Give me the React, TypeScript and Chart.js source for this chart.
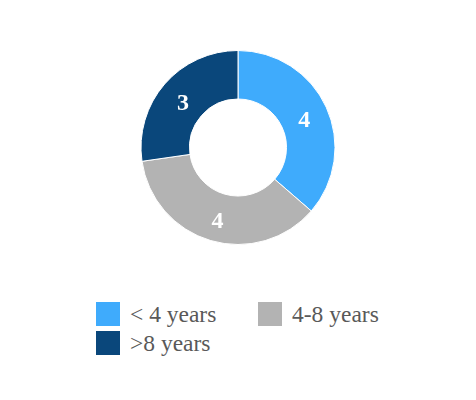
import React, { useEffect, useRef } from "react";
import { Chart, registerables } from "chart.js";

Chart.register(...registerables);

const categories = ["< 4 years", "4-8 years", ">8 years"];
const counts = [4, 4, 3];
const colors = ["#3FABFC", "#B3B3B3", "#0A477B"];

const FONT = '"Liberation Serif", "Times New Roman", serif';

// draws the value of each slice on the arc
const sliceLabels = {
    id: "sliceLabels",
    afterDatasetsDraw(chart: any) {
        const ctx = chart.ctx;
        const meta = chart.getDatasetMeta(0);
        ctx.save();
        ctx.fillStyle = "#ffffff";
        ctx.font = `bold 24px ${FONT}`;
        ctx.textAlign = "center";
        ctx.textBaseline = "middle";
        meta.data.forEach((arc: any, i: number) => {
            const pos = arc.tooltipPosition();
            ctx.fillText(String(chart.data.datasets[0].data[i]), pos.x, pos.y + 4);
        });
        ctx.restore();
    },
};

const App: React.FC = () => {
    const chartRef = useRef<HTMLCanvasElement | null>(null);
    const chartInstanceRef = useRef<Chart<"doughnut"> | null>(null);

    useEffect(() => {
        if (!chartRef.current) return;
        if (chartInstanceRef.current) {
            chartInstanceRef.current.destroy();
        }
        const ctx = chartRef.current.getContext("2d");
        if (!ctx) return;

        chartInstanceRef.current = new Chart(ctx, {
            type: "doughnut",
            data: {
                labels: categories,
                datasets: [
                    {
                        data: counts,
                        backgroundColor: colors,
                        borderColor: "#ffffff",
                        borderWidth: 1,
                    },
                ],
            },
            options: {
                animation: false,
                responsive: true,
                maintainAspectRatio: false,
                cutout: "50%",
                plugins: {
                    legend: { display: false },
                    tooltip: { enabled: false },
                },
            },
            plugins: [sliceLabels],
        });

        return () => {
            if (chartInstanceRef.current) {
                chartInstanceRef.current.destroy();
                chartInstanceRef.current = null;
            }
        };
    }, []);

    return (
        <div style={{ width: 460, height: 384, position: "relative", fontFamily: FONT }}>
            <div style={{ position: "absolute", left: 0, top: 42, width: 460, height: 195 }}>
                <canvas ref={chartRef} />
            </div>
            <div
                style={{
                    position: "absolute",
                    left: 88,
                    top: 294,
                    display: "grid",
                    gridTemplateColumns: "162px 162px",
                    rowGap: 5,
                }}
            >
                {categories.map((name, i) => (
                    <div key={name} style={{ display: "flex", alignItems: "center", height: 24 }}>
                        <span
                            style={{
                                display: "inline-block",
                                width: 24,
                                height: 24,
                                background: colors[i],
                                marginRight: 10,
                            }}
                        />
                        <span style={{ fontSize: 23.5, color: "#595959", lineHeight: "24px" }}>{name}</span>
                    </div>
                ))}
            </div>
        </div>
    );
};

export default App;
